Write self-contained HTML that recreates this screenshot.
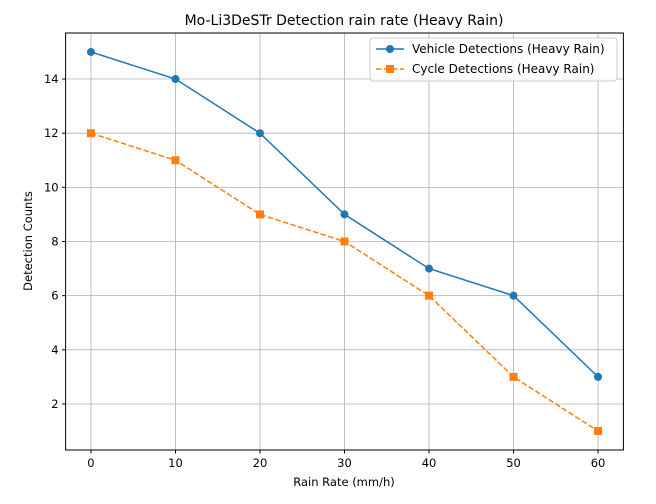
<!DOCTYPE html>
<html><head><meta charset="utf-8"><style>
body{margin:0;background:#fff;font-family:"Liberation Sans","DejaVu Sans",sans-serif;}
</style></head><body>
<svg width="656" height="499" xmlns="http://www.w3.org/2000/svg" font-family="DejaVu Sans, Liberation Sans, sans-serif">
<rect width="656" height="499" fill="#fff"/>
<g id="grid"></g>
<g id="marks"></g>
<rect x="65.6" y="33" width="557.8" height="417" fill="none" stroke="#000" stroke-width="1"/>
<g id="ticks" font-size="11.5" fill="#000"></g>
<text x="344" y="25" text-anchor="middle" font-size="14">Mo-Li3DeSTr Detection rain rate (Heavy Rain)</text>
<text x="344" y="486" text-anchor="middle" font-size="11.5">Rain Rate (mm/h)</text>
<text transform="translate(32,241) rotate(-90)" text-anchor="middle" font-size="11.5">Detection Counts</text>
<g>
<rect x="370" y="38" width="247" height="43" rx="3" fill="#fff" fill-opacity="0.8" stroke="#ccc"/>
<line x1="376" y1="49" x2="404" y2="49" stroke="#1f77b4" stroke-width="1.5"/>
<circle cx="390" cy="49" r="4" fill="#1f77b4"/>
<text x="412" y="53" font-size="12">Vehicle Detections (Heavy Rain)</text>
<line x1="376" y1="69" x2="404" y2="69" stroke="#ff7f0e" stroke-width="1.5" stroke-dasharray="5.5,2.4"/>
<rect x="386" y="65" width="8" height="8" fill="#ff7f0e"/>
<text x="412" y="73" font-size="12">Cycle Detections (Heavy Rain)</text>
</g>
</svg>
<script>
const categories=[0,10,20,30,40,50,60];
const vehicleValues=[15,14,12,9,7,6,3];
const cycleValues=[12,11,9,8,6,3,1];
const xTicks=[0,10,20,30,40,50,60];
const yTicks=[2,4,6,8,10,12,14];
const NS="http://www.w3.org/2000/svg";
const X0=65.6,X1=623.4,Y0=450,Y1=33;
const xmin=-3,xmax=63,ymin=0.3,ymax=15.7;
function sx(v){return X0+(v-xmin)/(xmax-xmin)*(X1-X0);}
function sy(v){return Y0-(v-ymin)/(ymax-ymin)*(Y0-Y1);}
function mk(t,a,p){const e=document.createElementNS(NS,t);for(const k in a)e.setAttribute(k,a[k]);p.appendChild(e);return e;}
const grid=document.getElementById('grid'),ticks=document.getElementById('ticks'),marks=document.getElementById('marks');
xTicks.forEach(v=>{const x=sx(v);
const g=mk('line',{x1:x,x2:x,y1:Y1,y2:Y0,stroke:'#b0b0b0','stroke-width':0.8},grid);

mk('line',{x1:x,x2:x,y1:Y0,y2:Y0+3.5,stroke:'#000'},ticks);
const t=mk('text',{x:x,y:Y0+17,'text-anchor':'middle'},ticks);t.textContent=v;
});
yTicks.forEach(v=>{const y=sy(v);
const g=mk('line',{x1:X0,x2:X1,y1:y,y2:y,stroke:'#b0b0b0','stroke-width':0.8},grid);

mk('line',{x1:X0-3.5,x2:X0,y1:y,y2:y,stroke:'#000'},ticks);
const t=mk('text',{x:X0-7,y:y+4,'text-anchor':'end'},ticks);t.textContent=v;
});
function series(vals,color,dash,square,name){
const pts=categories.map((c,i)=>sx(c)+','+sy(vals[i])).join(' ');
const l=mk('polyline',{points:pts,fill:'none',stroke:color,'stroke-width':1.5},marks);
if(dash)l.setAttribute('stroke-dasharray',dash);

categories.forEach((c,i)=>{let m;
if(square)m=mk('rect',{x:sx(c)-4,y:sy(vals[i])-4,width:8,height:8,fill:color},marks);
else m=mk('circle',{cx:sx(c),cy:sy(vals[i]),r:4,fill:color},marks);
});}
series(vehicleValues,'#1f77b4',null,false,'vehicle');
series(cycleValues,'#ff7f0e','5.5,2.4',true,'cycle');
</script>
</body></html>
